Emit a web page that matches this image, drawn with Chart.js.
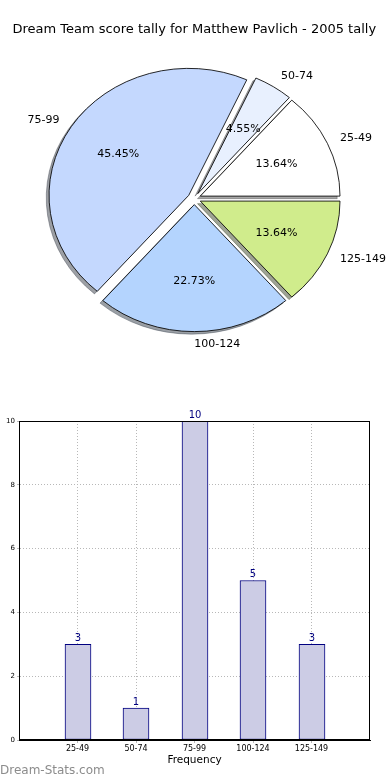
<!DOCTYPE html>
<html><head><meta charset="utf-8">
<script src="https://cdn.jsdelivr.net/npm/chart.js@4"></script>
<style>
html,body{margin:0;padding:0;background:#fff;width:390px;height:780px;overflow:hidden}
#pieWrap{position:absolute;left:0;top:0;width:390px;height:380px}
#barWrap{position:absolute;left:0;top:380px;width:390px;height:400px}
#wm{position:absolute;left:0;top:763px;font:12px "DejaVu Sans";line-height:14px;color:#8c8c8c}
canvas{display:block}
</style></head><body>
<div id="pieWrap"><canvas id="pie" width="390" height="380"></canvas></div>
<div id="barWrap"><canvas id="bar" width="390" height="400"></canvas></div>
<div id="wm">Dream-Stats.com</div>
<script>
const titleText = 'Dream Team score tally for Matthew Pavlich - 2005 tally';
const categories = ['25-49', '50-74', '75-99', '100-124', '125-149'];
const counts = [3, 1, 10, 5, 3];
const sliceColors = ['#ffffff', '#e8f0fe', '#c4d8fe', '#b4d4fe', '#d0ec8c'];
const yTicks = [0, 2, 4, 6, 8, 10];
const xAxisTitle = 'Frequency';

Chart.defaults.font.family = 'DejaVu Sans';
Chart.defaults.color = '#000';

const R = 127, SX = 1.1, EXPLODE = 6, SHADOW = 0.02;
const total = counts.reduce((a, b) => a + b, 0);
// Chart.js draws clockwise; reverse so slices run counter-clockwise from 3 o'clock
const pieLabels = categories.slice().reverse();
const pieData = counts.slice().reverse();
const pieColors = sliceColors.slice().reverse();

function shadowOf(hex) {
  const n = parseInt(hex.slice(1), 16);
  const r = (n >> 16) & 255, g = (n >> 8) & 255, b = n & 255;
  return `rgba(${Math.round(r*0.3)},${Math.round(g*0.3)},${Math.round(b*0.3)},0.5)`;
}

const piePlugin = {
  id: 'piePlugin',
  beforeDatasetDraw(chart, args) {
    const ctx = chart.ctx;
    const els = args.meta.data;
    const cx = els[0].x, cy = els[0].y;
    ctx.save();
    ctx.translate(cx, cy); ctx.scale(SX, 1); ctx.translate(-cx, -cy);
    els.forEach((el, i) => {
      const a = (el.startAngle + el.endAngle) / 2;
      ctx.save();
      ctx.translate(Math.cos(a) * EXPLODE - SHADOW * R, Math.sin(a) * EXPLODE + SHADOW * R);
      const o = el.options;
      const sc = shadowOf(pieColors[i]);
      el.options = Object.assign({}, o, {backgroundColor: sc, borderColor: sc});
      el.draw(ctx);
      el.options = o;
      ctx.restore();
    });
    els.forEach((el) => {
      const a = (el.startAngle + el.endAngle) / 2;
      ctx.save();
      ctx.translate(Math.cos(a) * EXPLODE, Math.sin(a) * EXPLODE);
      el.draw(ctx);
      ctx.restore();
    });
    ctx.restore();
    return false;
  },
  afterDatasetsDraw(chart) {
    const ctx = chart.ctx;
    const els = chart.getDatasetMeta(0).data;
    ctx.save();
    ctx.fillStyle = '#000';
    ctx.font = '11px "DejaVu Sans"';
    ctx.textBaseline = 'middle';
    els.forEach((el, i) => {
      const a = (el.startAngle + el.endAngle) / 2;
      const c = Math.cos(a), s = Math.sin(a);
      const ox = el.x + SX * EXPLODE * c, oy = el.y + EXPLODE * s;
      const lx = ox + SX * 1.1 * R * c, ly = oy + 1.1 * R * s;
      ctx.textAlign = c > -1e-6 ? 'left' : 'right';
      ctx.fillText(pieLabels[i], lx, ly);
      const px = ox + SX * 0.6 * R * c, py = oy + 0.6 * R * s;
      ctx.textAlign = 'center';
      ctx.fillText((pieData[i] / total * 100).toFixed(2) + '%', px, py);
    });
    ctx.restore();
  }
};

new Chart(document.getElementById('pie'), {
  type: 'pie',
  data: {
    labels: pieLabels,
    datasets: [{data: pieData, backgroundColor: pieColors, borderColor: '#000', borderWidth: 0.8, clip: false}]
  },
  options: {
    responsive: false, animation: false, devicePixelRatio: 1,
    rotation: 90, radius: R,
    layout: {padding: {top: 0, bottom: 20.6, left: 0, right: 1.4}},
    events: [],
    plugins: {
      legend: {display: false}, tooltip: {enabled: false},
      title: {display: true, text: titleText, color: '#000',
        font: {family: 'DejaVu Sans', size: 13, weight: 'normal', lineHeight: 1.2},
        padding: {top: 22.2, bottom: 0}}
    }
  },
  plugins: [piePlugin]
});

const barPlugin = {
  id: 'barPlugin',
  afterDatasetUpdate(chart, args) {
    // snap library-computed bar centres to whole pixels for crisp edges
    args.meta.data.forEach(el => { el.x = Math.round(el.x); });
  },
  afterDatasetsDraw(chart) {
    const ctx = chart.ctx;
    const els = chart.getDatasetMeta(0).data;
    ctx.save();
    ctx.fillStyle = '#000080';
    ctx.font = '10px "DejaVu Sans"';
    ctx.textAlign = 'center';
    ctx.textBaseline = 'bottom';
    els.forEach((el, i) => ctx.fillText(String(counts[i]), el.x, el.y - 1));
    ctx.restore();
  },
  afterDraw(chart) {
    const {left, top, right, bottom} = chart.chartArea;
    const ctx = chart.ctx;
    ctx.save();
    ctx.strokeStyle = '#000';
    ctx.lineWidth = 1;
    ctx.strokeRect(Math.round(left) + 0.5, Math.round(top) + 0.5, Math.round(right - left) - 1, Math.round(bottom - top) - 1);
    ctx.restore();
  }
};

new Chart(document.getElementById('bar'), {
  type: 'bar',
  data: {
    datasets: [{
      data: counts.map((v, i) => ({x: i, y: v})),
      backgroundColor: '#ccccE5', borderColor: '#000080', borderWidth: 1,
      barThickness: 26, borderSkipped: false
    }]
  },
  options: {
    responsive: false, animation: false, devicePixelRatio: 1, events: [],
    layout: {padding: {left: 0, right: 20, top: 41, bottom: 0}},
    plugins: {legend: {display: false}, tooltip: {enabled: false}},
    scales: {
      x: {
        type: 'linear', min: -1, max: 5, offset: false,
        afterBuildTicks(s) { s.ticks = categories.map((c, i) => ({value: i})); },
        afterFit(s) { s.height = 40; },
        ticks: {callback: (v) => categories[v] ?? '', font: {size: 8}, color: '#000', padding: 1, maxRotation: 0, autoSkip: false},
        grid: {offset: false, color: '#b8b8b8', lineWidth: 1, tickLength: 3, tickColor: '#b8b8b8'},
        border: {color: '#000', width: 1, dash: [1, 2]},
        title: {display: true, text: xAxisTitle, color: '#000', font: {size: 10.5}, padding: {top: 0, bottom: 13.7}}
      },
      y: {
        min: 0, max: 10,
        afterBuildTicks(s) { s.ticks = yTicks.map(v => ({value: v})); },
        afterFit(s) { s.width = 19; },
        ticks: {font: {size: 7}, color: '#000', padding: 2},
        grid: {color: '#b8b8b8', lineWidth: 1, tickLength: 2, tickColor: '#b8b8b8'},
        border: {color: '#000', width: 1, dash: [1, 2]}
      }
    }
  },
  plugins: [barPlugin]
});
</script>
</body></html>
